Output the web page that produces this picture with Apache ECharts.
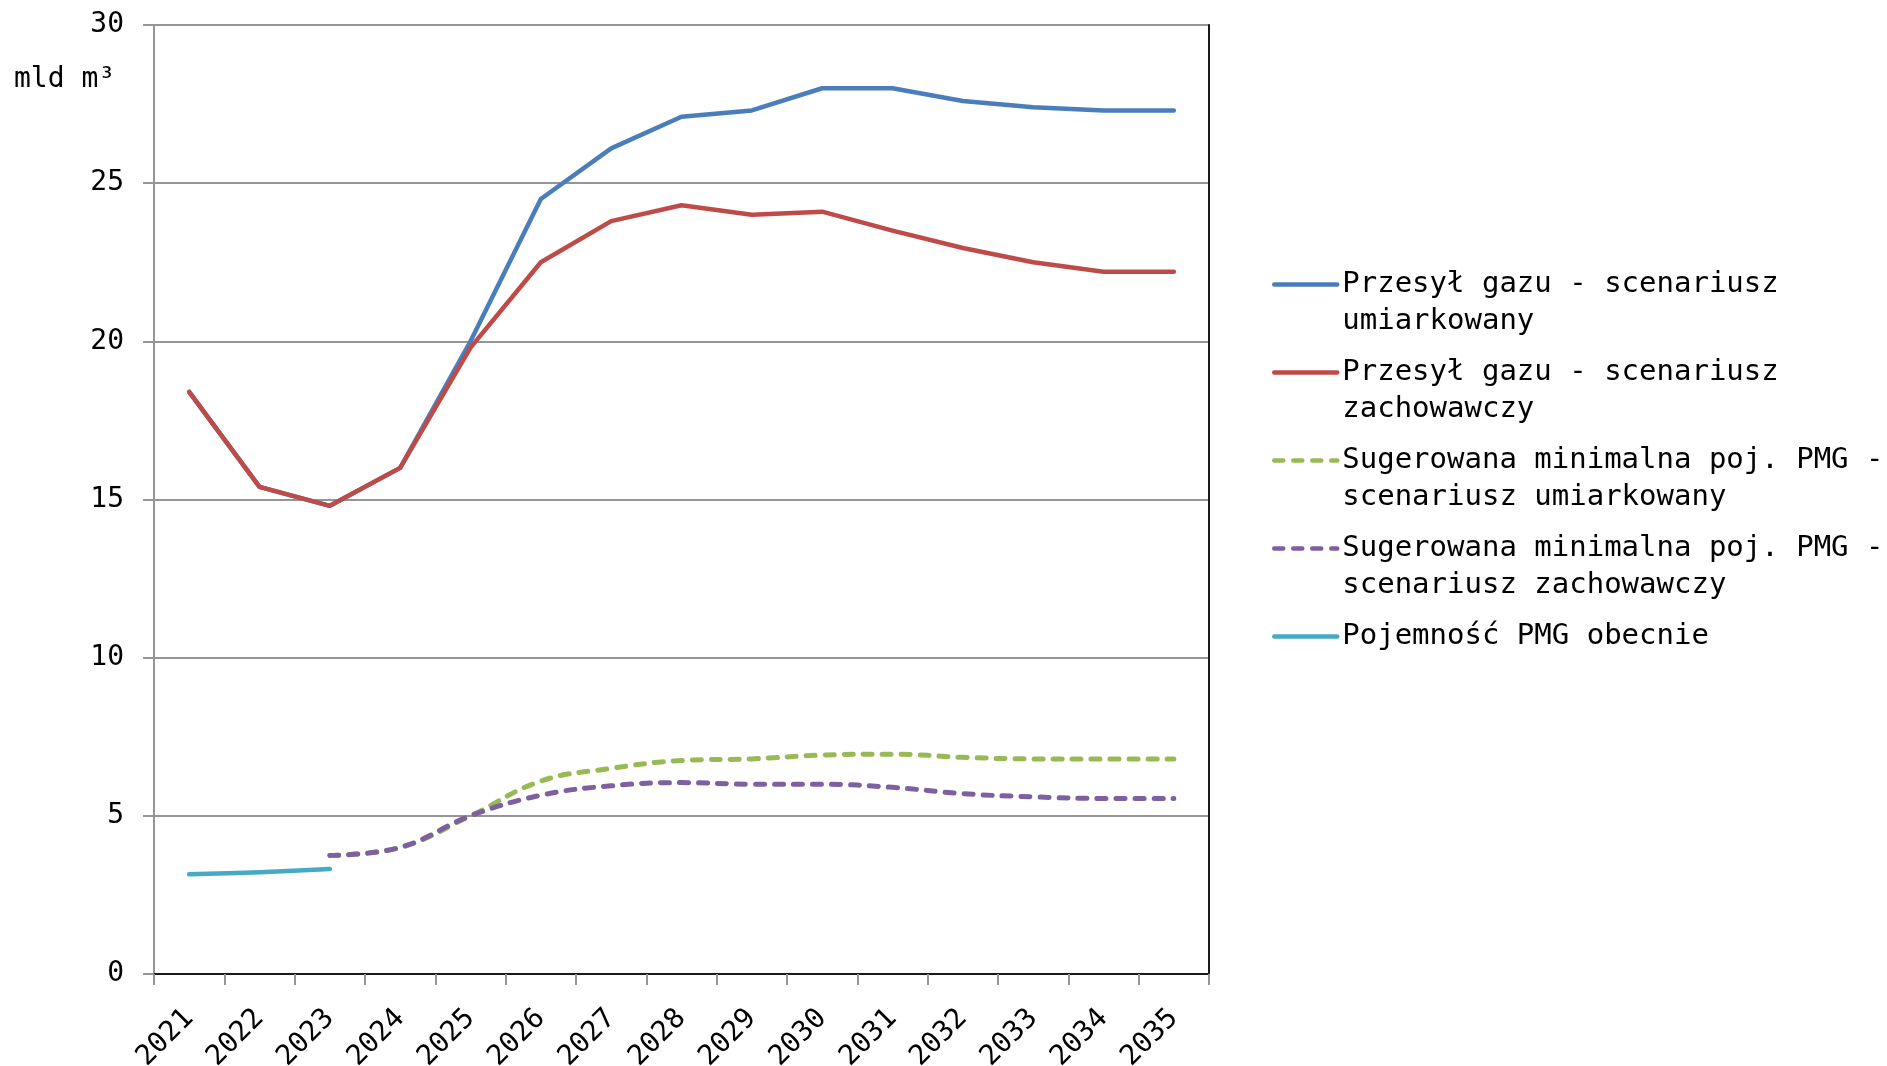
<!DOCTYPE html>
<html>
<head>
<meta charset="utf-8">
<title>Przesył gazu i pojemność PMG</title>
<script src="https://cdn.jsdelivr.net/npm/echarts@6/dist/echarts.min.js"></script>
<style>
  html, body { margin: 0; padding: 0; background: #fff; }
  #chart { width: 1887px; height: 1066px; }
</style>
</head>
<body>
<div id="chart"></div>
<script>
// Years on the category axis
const years = ['2021', '2022', '2023', '2024', '2025', '2026', '2027', '2028',
               '2029', '2030', '2031', '2032', '2033', '2034', '2035'];

// Value axis ticks (mld m3)
const yTicks = [0, 5, 10, 15, 20, 25, 30];

// Series names (legend text, wrapped)
const nameTransitModerate = 'Przesył gazu - scenariusz\numiarkowany';
const nameTransitConservative = 'Przesył gazu - scenariusz\nzachowawczy';
const nameStorageModerate = 'Sugerowana minimalna poj. PMG -\nscenariusz umiarkowany';
const nameStorageConservative = 'Sugerowana minimalna poj. PMG -\nscenariusz zachowawczy';
const nameStorageCurrent = 'Pojemność PMG obecnie';

// Gas transit, moderate scenario
const transitModerate = [18.4, 15.4, 14.8, 16.0, 20.0, 24.5, 26.1, 27.1, 27.3, 28.0, 28.0, 27.6, 27.4, 27.3, 27.3];
// Gas transit, conservative scenario
const transitConservative = [18.4, 15.4, 14.8, 16.0, 19.8, 22.5, 23.8, 24.3, 24.0, 24.1, 23.5, 22.95, 22.5, 22.2, 22.2];
// Suggested minimum storage capacity, moderate scenario
const storageModerate = [null, null, 3.75, 4.0, 5.0, 6.1, 6.5, 6.75, 6.8, 6.92, 6.95, 6.85, 6.8, 6.8, 6.8];
// Suggested minimum storage capacity, conservative scenario
const storageConservative = [null, null, 3.75, 4.0, 5.0, 5.65, 5.95, 6.05, 6.0, 6.0, 5.9, 5.7, 5.6, 5.55, 5.55];
// Current storage capacity
const storageCurrent = [3.15, 3.22, 3.32, null, null, null, null, null, null, null, null, null, null, null, null];

const FONT = '"DejaVu Sans Mono", "Liberation Mono", monospace';
const AXIS_GRAY = '#959595';
const LINE_H = 37;

const chart = echarts.init(document.getElementById('chart'), null, { renderer: 'canvas' });

function solid(name, data, color) {
  return {
    name, type: 'line', data, symbol: 'none', smooth: false,
    lineStyle: { color, width: 4.5, cap: 'round', join: 'round' },
    itemStyle: { color }
  };
}
function dashed(name, data, color) {
  return {
    name, type: 'line', data, symbol: 'none', smooth: 0.4,
    lineStyle: { color, width: 5, type: [9, 10], cap: 'round', join: 'round' },
    itemStyle: { color }
  };
}

// Legend text is rich text; the top padding puts the first line level with the icon
const legendText = { padding: [LINE_H, 0, 0, 0] };

chart.setOption({
  animation: false,
  backgroundColor: '#ffffff',
  textStyle: { fontFamily: FONT },
  grid: {
    left: 154, right: 678, top: 25, bottom: 92,
    outerBoundsMode: 'none',
    containLabel: false
  },
  legend: {
    orient: 'vertical',
    left: 1267,
    top: 224,
    itemWidth: 63,
    itemHeight: 14,
    itemGap: 88 - 3 * LINE_H,
    selectedMode: false,
    itemStyle: { opacity: 0 },
    lineStyle: { width: 4.5 },
    textStyle: {
      fontFamily: FONT, fontSize: 29, color: '#000', lineHeight: LINE_H,
      rich: { t: { fontFamily: FONT, fontSize: 29, color: '#000', lineHeight: LINE_H } }
    },
    data: [
      { name: nameTransitModerate, textStyle: legendText },
      { name: nameTransitConservative, textStyle: legendText },
      { name: nameStorageModerate, textStyle: legendText },
      { name: nameStorageConservative, textStyle: legendText },
      { name: nameStorageCurrent, textStyle: legendText }
    ],
    formatter: function (n) {
      const lines = n.split('\n');
      if (lines.length < 2) lines.push(' ');
      return lines.map(function (s) { return '{t|' + s + '}'; }).join('\n');
    }
  },
  graphic: [{
    type: 'text',
    left: 14,
    top: 66,
    style: { text: 'mld m³', font: '28px ' + FONT, fill: '#000' }
  }],
  xAxis: [{
    type: 'category',
    data: years,
    boundaryGap: true,
    axisLine: { show: true, lineStyle: { color: AXIS_GRAY, width: 2 } },
    axisTick: { show: true, length: 11, lineStyle: { color: AXIS_GRAY, width: 2 } },
    axisLabel: { rotate: 45, margin: 40, fontFamily: FONT, fontSize: 28, color: '#000', interval: 0 },
    splitLine: { show: false }
  }, {
    // top frame of the plot area
    type: 'category',
    position: 'top',
    data: years,
    axisLine: { show: true, lineStyle: { color: '#1a1a1a', width: 2 } },
    axisTick: { show: false },
    axisLabel: { show: false },
    splitLine: { show: false }
  }],
  yAxis: [{
    type: 'value',
    min: yTicks[0],
    max: yTicks[yTicks.length - 1],
    interval: yTicks[1] - yTicks[0],
    axisLine: { show: true, lineStyle: { color: AXIS_GRAY, width: 2 } },
    axisTick: { show: true, length: 11, lineStyle: { color: AXIS_GRAY, width: 2 } },
    axisLabel: { margin: 30, fontFamily: FONT, fontSize: 28, color: '#000' },
    splitLine: { show: true, lineStyle: { color: AXIS_GRAY, width: 2 } }
  }, {
    // right frame of the plot area
    type: 'value',
    position: 'right',
    min: yTicks[0],
    max: yTicks[yTicks.length - 1],
    interval: yTicks[1] - yTicks[0],
    axisLine: { show: true, lineStyle: { color: '#1a1a1a', width: 2 } },
    axisTick: { show: false },
    axisLabel: { show: false },
    splitLine: { show: false }
  }],
  series: [
    solid(nameTransitModerate, transitModerate, '#4A7EBB'),
    solid(nameTransitConservative, transitConservative, '#BE4B48'),
    dashed(nameStorageModerate, storageModerate, '#98B954'),
    dashed(nameStorageConservative, storageConservative, '#7D60A0'),
    Object.assign(solid(nameStorageCurrent, storageCurrent, '#46AAC5'), { smooth: 0.4 })
  ]
});
</script>
</body>
</html>
